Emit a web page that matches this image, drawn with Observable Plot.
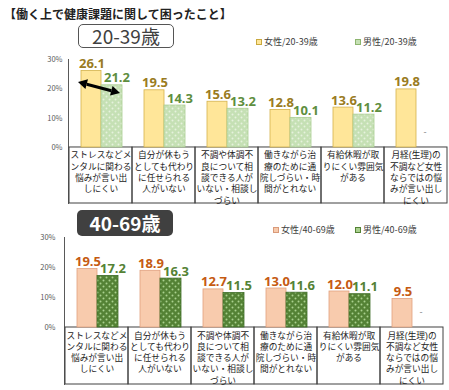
<!DOCTYPE html>
<html lang="ja">
<head>
<meta charset="utf-8">
<script src="https://cdn.jsdelivr.net/npm/d3@7"></script>
<script src="https://cdn.jsdelivr.net/npm/@observablehq/plot@0.6"></script>
<style>
  html, body { margin: 0; padding: 0; background: #fff; }
  #root { position: relative; width: 449px; height: 390px; overflow: hidden; font-family: "Noto Sans CJK JP", "Noto Sans", sans-serif; }
  .abs { position: absolute; }
  .title { left: 4px; top: 5px; font-size: 12px; font-weight: bold; color: #222; white-space: nowrap; }
  .badge { width: 96px; height: 24px; border-radius: 5px; box-sizing: border-box; text-align: center; font-size: 19px; line-height: 22px; font-family: "Noto Sans CJK JP", sans-serif; }
  .legend { font-size: 9px; color: #404040; white-space: nowrap; display: flex; align-items: center; z-index: 5; }
  .sw { display: inline-block; width: 4px; height: 4px; margin-right: 2px; border: 1px solid; }
  .chart { left: 0; }
</style>
</head>
<body>
<div id="root">
  <div class="abs title">【働く上で健康課題に関して困ったこと】</div>
  <div class="abs badge" style="left:78px; top:24px; border:1.5px solid #555; color:#404040; background:#fff;">20-39歳</div>
  <div class="abs legend" style="left:256px; top:35px;"><span class="sw" style="background:#FFE699;border-color:#C9A93E"></span>女性/20-39歳</div>
  <div class="abs legend" style="left:355px; top:35px;"><span class="sw" style="background:#C5E0B4;border-color:#8DB56F"></span>男性/20-39歳</div>
  <div class="abs badge" style="left:77px; top:210px; height:26px; line-height:26px; background:#404040; color:#fff; font-weight:bold;">40-69歳</div>
  <div class="abs legend" style="left:273px; top:223px;"><span class="sw" style="background:#F8CBAD;border-color:#D99A7A"></span>女性/40-69歳</div>
  <div class="abs legend" style="left:355px; top:223px;"><span class="sw" style="background:#A9D18E;border-color:#548235"></span>男性/40-69歳</div>
  <div class="abs chart" id="top" style="top:50px;"></div>
  <div class="abs chart" id="bottom" style="top:225px;"></div>
</div>
<script>
// ---- data ----
const categories = ["stress", "substitute", "consult", "treatment", "leave", "menstrual"];
const categoryLabels = [
  "ストレスなどメ\nンタルに関わる\n悩みが言い出\nしにくい",
  "自分が休もう\nとしても代わり\nに任せられる\n人がいない",
  "不調や体調不\n良について相\n談できる人が\nいない・相談し\nづらい",
  "働きながら治\n療のために通\n院しづらい・時\n間がとれない",
  "有給休暇が取\nりにくい雰囲気\nがある",
  "月経(生理)の\n不調など女性\nならではの悩\nみが言い出し\nにくい"
];
const female20 = [26.1, 19.5, 15.6, 12.8, 13.6, 19.8];
const male20   = [21.2, 14.3, 13.2, 10.1, 11.2, null];
const female40 = [19.5, 18.9, 12.7, 13.0, 12.0, 9.5];
const male40   = [17.2, 16.3, 11.5, 11.6, 11.1, null];
const yTicks = [0, 10, 20, 30];
// double-headed arrow annotation (top chart, first category): value levels at ends
const arrowAnno = { cat: "stress", from: 22.2, to: 18.4 };

const FONT = "'Noto Sans CJK JP', 'Noto Sans', sans-serif";
const TABLEFONT = "'Liberation Sans', 'Noto Sans CJK JP', sans-serif";
const NUMFONT = "'Open Sans', 'Noto Sans', sans-serif";

function makeChart(cfg) {
  const rows = categories.map((c, i) => ({ cat: c, label: categoryLabels[i], f: cfg.female[i], m: cfg.male[i] }));
  const plot = Plot.plot({
    width: 449,
    height: cfg.height,
    marginLeft: cfg.left,
    marginRight: cfg.right,
    marginTop: cfg.top,
    marginBottom: 1,
    style: { fontFamily: FONT, background: "transparent", overflow: "visible" },
    x: { type: "band", domain: categories, padding: 0, axis: null },
    y: { domain: [-cfg.tableDepth, 30], axis: null },
    marks: [
      Plot.frame({ anchor: "left", stroke: "#595959" }),
      Plot.axisY({ ticks: yTicks, tickFormat: d => d + "%", tickSize: 0, tickPadding: cfg.tickPad, fontSize: 7.5, fill: "#595959", anchor: "left" }),
      // table cells
      Plot.barY(rows, { x: "cat", y1: 0, y2: -cfg.tableDepth, fill: "none", stroke: "#404040", strokeWidth: 1 }),
      Plot.text(rows, { x: "cat", y: 0, text: "label", lineAnchor: "top", dy: 3, fontSize: 8.7, lineHeight: 1.3, fill: "#222", fontFamily: TABLEFONT }),
      // bars
      Plot.barY(rows, { x: "cat", y: "f", insetLeft: 12, insetRight: 31, fill: cfg.fColor, stroke: cfg.fStroke, strokeWidth: 0.8 }),
      Plot.barY(rows.filter(d => d.m != null), { x: "cat", y: "m", insetLeft: 32, insetRight: 10, fill: "url(#" + cfg.patId + ")", stroke: cfg.mStroke, strokeWidth: 0.8 }),
      // value labels
      Plot.text(rows, { x: "cat", y: "f", text: d => d.f.toFixed(1), dx: -9, dy: -3, lineAnchor: "bottom", fontSize: 13, fontWeight: "bold", fill: cfg.fLabel, fontFamily: NUMFONT }),
      Plot.text(rows.filter(d => d.m != null), { x: "cat", y: "m", text: d => d.m.toFixed(1), dx: 16, dy: -3, lineAnchor: "bottom", fontSize: 13, fontWeight: "bold", fill: cfg.mLabel, fontFamily: NUMFONT }),
      Plot.text(rows.filter(d => d.m == null), { x: "cat", y: 0, text: d => "-", dx: 9, dy: -15, fontSize: 9, fill: "#7f7f7f" })
    ]
  });
  // pattern defs
  const ns = "http://www.w3.org/2000/svg";
  const defs = document.createElementNS(ns, "defs");
  const pat = document.createElementNS(ns, "pattern");
  pat.setAttribute("id", cfg.patId);
  pat.setAttribute("patternUnits", "userSpaceOnUse");
  pat.setAttribute("width", 6);
  pat.setAttribute("height", 6);
  const bg = document.createElementNS(ns, "rect");
  bg.setAttribute("width", 6); bg.setAttribute("height", 6); bg.setAttribute("fill", cfg.mColor);
  pat.appendChild(bg);
  [[1.5, 1.5], [4.5, 4.5]].forEach(([cx, cy]) => {
    const c = document.createElementNS(ns, "circle");
    c.setAttribute("cx", cx); c.setAttribute("cy", cy); c.setAttribute("r", 1); c.setAttribute("fill", cfg.dotColor);
    pat.appendChild(c);
  });
  defs.appendChild(pat);
  plot.insertBefore(defs, plot.firstChild);
  return plot;
}

const topPlot = makeChart({
  height: 154, left: 68, right: 1, top: 9, tableDepth: 19.1, tickPad: 6,
  female: female20, male: male20,
  fColor: "#FFE699", fStroke: "#D4B24C", mColor: "#C5E0B4", dotColor: "#E6F2DD", mStroke: "#A9CC8F",
  fLabel: "#9A7B22", mLabel: "#5E8E3E", patId: "dotsLight"
});
const botPlot = makeChart({
  height: 160, left: 64, right: 5, top: 12, tableDepth: 19, tickPad: 9,
  female: female40, male: male40,
  fColor: "#F8CBAD", fStroke: "#E0A07E", mColor: "#548235", dotColor: "#A9D18E", mStroke: "#3E6B27",
  fLabel: "#C55A11", mLabel: "#548235", patId: "dotsDark"
});
document.getElementById("top").appendChild(topPlot);
document.getElementById("bottom").appendChild(botPlot);

// arrow annotation on top chart, positioned through the chart's scales
(function () {
  const ns = "http://www.w3.org/2000/svg";
  const xs = topPlot.scale("x"), ys = topPlot.scale("y");
  const x0 = xs.apply(arrowAnno.cat);
  const bw = xs.bandwidth;
  const p1 = [x0 + 9, ys.apply(arrowAnno.from)];
  const p2 = [x0 + bw - 12, ys.apply(arrowAnno.to)];
  const g = document.createElementNS(ns, "g");
  const dx = p2[0] - p1[0], dy = p2[1] - p1[1];
  const len = Math.hypot(dx, dy), ux = dx / len, uy = dy / len;
  const head = 9, hw = 5;
  const a = [p1[0] + ux * head, p1[1] + uy * head];
  const b = [p2[0] - ux * head, p2[1] - uy * head];
  const line = document.createElementNS(ns, "line");
  line.setAttribute("x1", a[0]); line.setAttribute("y1", a[1]);
  line.setAttribute("x2", b[0]); line.setAttribute("y2", b[1]);
  line.setAttribute("stroke", "#000"); line.setAttribute("stroke-width", 3);
  g.appendChild(line);
  function tri(tip, base) {
    const px = -uy, py = ux;
    const poly = document.createElementNS(ns, "polygon");
    poly.setAttribute("points", [tip, [base[0] + px * hw, base[1] + py * hw], [base[0] - px * hw, base[1] - py * hw]].map(p => p.join(",")).join(" "));
    poly.setAttribute("fill", "#000");
    g.appendChild(poly);
  }
  tri(p1, a); tri(p2, b);
  topPlot.appendChild(g);
})();
</script>
</body>
</html>
